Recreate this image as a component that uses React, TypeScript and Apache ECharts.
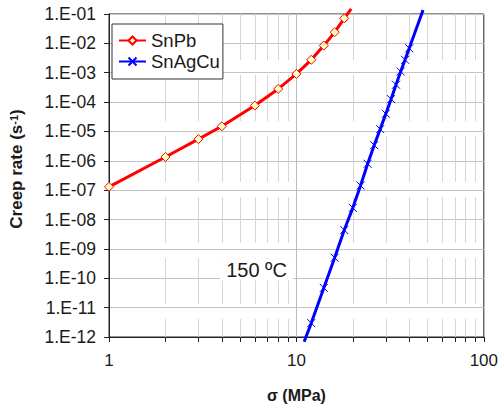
import React, { useEffect, useRef } from 'react';
import * as echarts from 'echarts';

// SnPb creep data (stress MPa, creep rate 1/s)
const snpbStress = [1, 2, 3, 4, 6, 8, 10, 12, 14, 16, 18];
const snpbRate = [1.3e-7, 1.35e-6, 5.5e-6, 1.5e-5, 7.6e-5, 2.8e-4, 9.1e-4, 2.75e-3, 8.4e-3, 2.4e-2, 7.1e-2];
const snpbTail = [19.6, 0.15];

// SnAgCu creep data
const snacStress = [12, 14, 16, 18, 20, 22, 24, 26, 28, 30, 32, 34, 36, 38, 40];
const snacRate = [2.97e-12, 4.7e-11, 5.0e-10, 4.4e-9, 2.5e-8, 1.44e-7, 7.9e-7, 3.4e-6, 1.2e-5, 4.0e-5, 1.26e-4, 3.9e-4, 1.1e-3, 2.75e-3, 6.8e-3];
const snacHead = [11.0, 6.9e-13];
const snacTail = [47.4, 0.137];

const seriesNames = ['SnPb', 'SnAgCu'];
const annotation = '150 ºC';
const xTitle = 'σ (MPa)';
const yTitle = 'Creep rate (s{sup|-1})';

const FONT = 'Liberation Sans, Arial, sans-serif';
const TXT = '#1a1a1a';

function fmtY(v: number) {
  const e = Math.round(Math.log10(v));
  return '1.E' + (e < 0 ? '-' : '+') + String(Math.abs(e)).padStart(2, '0');
}

export default function App() {
  const ref = useRef<HTMLDivElement>(null);
  useEffect(() => {
    const chart = echarts.init(ref.current!, null, { renderer: 'svg' });
    const snpbData: any[] = snpbStress.map((x, i) => [x, snpbRate[i]]);
    snpbData.push({ value: snpbTail, symbol: 'none' });
    const snacData: any[] = [{ value: snacHead, symbol: 'none' }];
    snacStress.forEach((x, i) => snacData.push([x, snacRate[i]]));
    snacData.push({ value: snacTail, symbol: 'none' });

    chart.setOption({
      animation: false,
      backgroundColor: '#fff',
      grid: {
        left: 105, right: 14, top: 14, bottom: 70,
        show: true, borderColor: '#222', borderWidth: 1, backgroundColor: '#fff',
      },
      legend: {
        left: 112, top: 24, orient: 'vertical',
        backgroundColor: '#fff', borderColor: '#333', borderWidth: 1,
        padding: [7, 3, 8, 6],
        itemWidth: 27, itemHeight: 10, itemGap: 2,
        textStyle: { fontFamily: FONT, fontSize: 18.5, color: TXT, lineHeight: 18 },
        data: seriesNames,
      },
      xAxis: {
        type: 'log', logBase: 10, min: 1, max: 100, interval: 1,
        name: xTitle, nameLocation: 'middle', nameGap: 50,
        nameTextStyle: { fontFamily: FONT, fontSize: 16, fontWeight: 'bold', color: TXT },
        axisLine: { show: true, lineStyle: { color: '#222', width: 1 } },
        axisTick: { show: true, length: 5, lineStyle: { color: '#222' } },
        minorTick: { show: true, splitNumber: 9, length: 5, lineStyle: { color: '#222' } },
        axisLabel: {
          fontFamily: FONT, fontSize: 17, color: TXT, margin: 15,
          formatter: (v: number) => String(Math.round(v)),
        },
        splitLine: { show: true, lineStyle: { color: '#bdbdbd', width: 1 } },
        minorSplitLine: { show: true, lineStyle: { color: '#d6d6d6', width: 1, type: [46, 15] } },
      },
      yAxis: {
        type: 'log', logBase: 10, min: 1e-12, max: 1e-1, interval: 1,
        name: yTitle, nameLocation: 'middle', nameGap: 84,
        nameTextStyle: {
          fontFamily: FONT, fontSize: 17, fontWeight: 'bold', color: TXT,
          padding: [0, 0, 0, 13],
          rich: { sup: { fontFamily: FONT, fontSize: 11, fontWeight: 'bold', color: TXT, verticalAlign: 'top' } },
        },
        axisLine: { show: true, lineStyle: { color: '#222', width: 1 } },
        axisTick: { show: true, length: 5, lineStyle: { color: '#222' } },
        axisLabel: { fontFamily: FONT, fontSize: 17.5, color: TXT, margin: 13, formatter: fmtY },
        splitLine: { show: true, lineStyle: { color: '#c4c4c4', width: 1 } },
      },
      graphic: [{
        type: 'text', x: 256.5, y: 269.5, z: 10,
        style: {
          text: annotation, font: '20px Liberation Sans', fill: TXT,
          align: 'center', verticalAlign: 'middle', backgroundColor: '#fff', padding: [1, 6],
        },
      }],
      series: [
        {
          name: seriesNames[0], type: 'line', data: snpbData, clip: false,
          symbol: 'diamond', symbolSize: 9,
          lineStyle: { color: '#ff0000', width: 3 },
          itemStyle: { color: '#ffffc0', borderColor: '#ff0000', borderWidth: 1 },
          z: 3,
        },
        {
          name: seriesNames[1], type: 'line', data: snacData, clip: false,
          symbol: 'path://M0,0L8,8M8,0L0,8', symbolSize: 8,
          lineStyle: { color: '#0000ff', width: 3 },
          itemStyle: { color: '#0000ff', borderColor: '#0000ff', borderWidth: 1 },
          z: 4,
        },
      ],
    });
    return () => chart.dispose();
  }, []);
  return <div ref={ref} style={{ position: 'fixed', left: 0, top: 0, width: 501, height: 408 }} />;
}
